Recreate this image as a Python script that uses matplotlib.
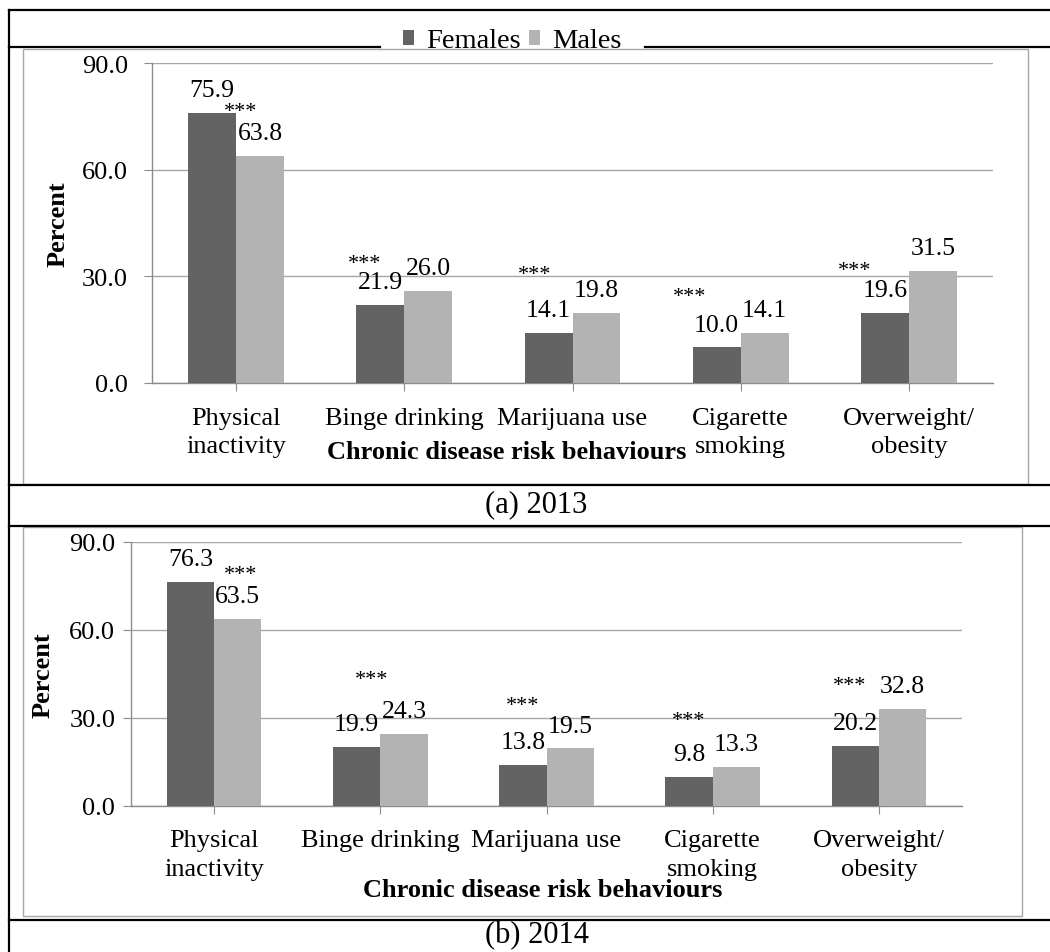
import numpy as np
import matplotlib
matplotlib.use('Agg')
import matplotlib.pyplot as plt
from matplotlib.lines import Line2D
from matplotlib.patches import Rectangle

plt.rcParams['font.family'] = ['Liberation Serif', 'DejaVu Serif']

# data
categories = ['Physical\ninactivity', 'Binge drinking', 'Marijuana use',
              'Cigarette\nsmoking', 'Overweight/\nobesity']
females_2013 = [75.9, 21.9, 14.1, 10.0, 19.6]
males_2013 = [63.8, 26.0, 19.8, 14.1, 31.5]
females_2014 = [76.3, 19.9, 13.8, 9.8, 20.2]
males_2014 = [63.5, 24.3, 19.5, 13.3, 32.8]
y_ticks = [0, 30, 60, 90]
series_names = ['Females', 'Males']
captions = ['(a) 2013', '(b) 2014']
x_title = 'Chronic disease risk behaviours'
y_title = 'Percent'
star_text = '***'

dark = '#636363'
light = '#b3b3b3'
grid_c = '#a6a6a6'

W, H = 1050, 953
fig = plt.figure(figsize=(W / 100, H / 100), dpi=100)


def fx(px):
    return px / W


def fy(py):
    return 1 - py / H


def hline(y, x0, x1):
    fig.add_artist(Line2D([fx(x0), fx(x1)], [fy(y), fy(y)], transform=fig.transFigure,
                          color='black', lw=1.6))


def draw_panel(box, females, males, star_offsets, ytick_pad):
    left, top, right, bottom = box
    ax = fig.add_axes([fx(left), fy(bottom), (right - left) / W, (bottom - top) / H])
    ax.patch.set_alpha(0)
    x = np.arange(len(categories))
    w = 0.285
    b1 = ax.bar(x - w / 2, females, w, color=dark, lw=0, zorder=3)
    b2 = ax.bar(x + w / 2, males, w, color=light, lw=0, zorder=3)
    ax.set_xlim(-0.5, len(categories) - 0.5)
    ax.set_ylim(0, 90)
    ax.set_yticks(y_ticks)
    ax.set_yticklabels([f'{v:.1f}' for v in y_ticks], fontsize=19)
    ax.set_xticks(x)
    ax.set_xticklabels(categories, fontsize=19, linespacing=1.4)
    ax.yaxis.grid(True, color=grid_c, lw=1)
    ax.set_axisbelow(True)
    for s in ['top', 'right']:
        ax.spines[s].set_visible(False)
    for s in ['left', 'bottom']:
        ax.spines[s].set_color('#8c8c8c')
        ax.spines[s].set_linewidth(1)
    ax.tick_params(axis='y', length=5.8, color='#8c8c8c', pad=ytick_pad)
    ax.tick_params(axis='x', length=5.5, color='#8c8c8c', pad=11.5)

    for i in range(len(categories)):
        ax.annotate(f'{females[i]:.1f}', (x[i] - w / 2, females[i]), xytext=(0, 12.2),
                    textcoords='offset points', ha='center', va='baseline', fontsize=18.5)
        ax.annotate(f'{males[i]:.1f}', (x[i] + w / 2, males[i]), xytext=(0, 12.2),
                    textcoords='offset points', ha='center', va='baseline', fontsize=18.5)
        dx, dy = star_offsets[i]
        ax.annotate(star_text, (x[i], females[i]), xytext=(dx * 0.72, (dy - 8) * 0.72),
                    textcoords='offset points', ha='center', va='baseline', fontsize=16)
    return b1, b2


# panel (a) 2013
bars = draw_panel((152, 64.3, 993, 384), females_2013, males_2013,
                  [(4, 5), (-40, 45), (-38, 62), (-51, 54.5), (-54, 46)], 11.5)
fig.text(fx(58), fy(224), y_title, rotation=90, ha='center', va='center',
         fontsize=19, fontweight='bold')
fig.text(fx(507), fy(453), x_title, ha='center', va='center', fontsize=19, fontweight='bold')

# panel (b) 2014
draw_panel((131, 542.5, 962, 806.7), females_2014, males_2014,
           [(26, 10.7), (-9, 71), (-24, 63), (-24, 60), (-29, 64)], 5.5)
fig.text(fx(43), fy(675), y_title, rotation=90, ha='center', va='center',
         fontsize=19, fontweight='bold')
fig.text(fx(543), fy(891), x_title, ha='center', va='center', fontsize=19, fontweight='bold')

# table borders and chart frames
hline(11, 9, 1050)
hline(48.3, 9, 380)
hline(48.3, 645, 1050)
hline(486, 9, 1050)
hline(526.7, 9, 1050)
hline(920.7, 9, 1050)
fig.add_artist(Line2D([fx(9), fx(9)], [fy(11), fy(953)], transform=fig.transFigure,
                      color='black', lw=1.6))
fig.add_artist(Rectangle((fx(23), fy(485)), (1028 - 23) / W, (485 - 50) / H,
                         transform=fig.transFigure, fill=False, edgecolor=grid_c, lw=1))
fig.add_artist(Rectangle((fx(23), fy(916.7)), (1022 - 23) / W, (916.7 - 527.7) / H,
                         transform=fig.transFigure, fill=False, edgecolor=grid_c, lw=1))

fig.text(fx(536), fy(505), captions[0], ha='center', va='center', fontsize=22)
fig.text(fx(537), fy(935.5), captions[1], ha='center', va='center', fontsize=22)

fig.legend(bars, series_names, loc='center', bbox_to_anchor=(fx(512), fy(42)), ncol=2,
           frameon=False, fontsize=20.5, handlelength=0.4, handleheight=0.4,
           handletextpad=0.4, columnspacing=0.3, borderpad=0, borderaxespad=0)

fig.savefig('out.png', dpi=100)
